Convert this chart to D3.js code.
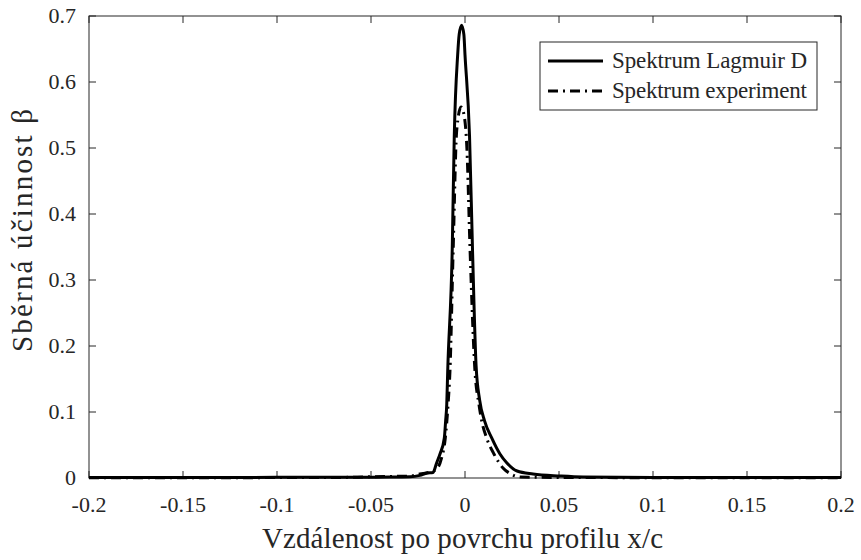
<!DOCTYPE html>
<html>
<head>
<meta charset="utf-8">
<script src="https://cdn.jsdelivr.net/npm/d3@7"></script>
<style>
  html, body { margin: 0; padding: 0; background: #fff; }
  svg { display: block; }
  text { font-family: "Liberation Serif", "DejaVu Serif", serif; fill: #262626; }
</style>
</head>
<body>
<svg id="chart" width="861" height="560"></svg>
<script>
// Collection efficiency along the profile surface
const xTicks = [-0.2, -0.15, -0.1, -0.05, 0, 0.05, 0.1, 0.15, 0.2];
const xTickLabels = ["-0.2", "-0.15", "-0.1", "-0.05", "0", "0.05", "0.1", "0.15", "0.2"];
const yTicks = [0, 0.1, 0.2, 0.3, 0.4, 0.5, 0.6, 0.7];
const yTickLabels = ["0", "0.1", "0.2", "0.3", "0.4", "0.5", "0.6", "0.7"];

const seriesNames = ["Spektrum Lagmuir D", "Spektrum experiment"];

// Spektrum Lagmuir D
const langmuirX = [-0.2, -0.15, -0.1, -0.06, -0.04, -0.0293, -0.024, -0.0202, -0.017, -0.0151, -0.0133, -0.011, -0.0103, -0.0097, -0.0092, -0.0068, -0.0057, -0.0039, -0.0031, -0.0018, -0.0006, 0.0, 0.0024, 0.004, 0.0059, 0.0078, 0.0104, 0.0142, 0.0186, 0.0223, 0.0277, 0.0362, 0.0505, 0.0628, 0.1, 0.15, 0.2];
const langmuirY = [0.0008, 0.0008, 0.001, 0.0012, 0.0014, 0.0018, 0.004, 0.0076, 0.0084, 0.0228, 0.0364, 0.0607, 0.0865, 0.112, 0.162, 0.345, 0.519, 0.641, 0.672, 0.686, 0.672, 0.641, 0.519, 0.345, 0.17, 0.118, 0.0865, 0.0607, 0.0364, 0.0228, 0.0106, 0.006, 0.003, 0.0015, 0.0009, 0.0008, 0.0008];

// Spektrum experiment
const experimentX = [-0.2, -0.15, -0.1, -0.06, -0.049, -0.029, -0.024, -0.0186, -0.0149, -0.0125, -0.0105, -0.009, -0.008, -0.0063, -0.0044, -0.0021, -0.0005, 0.001, 0.0027, 0.0053, 0.0074, 0.0089, 0.0115, 0.0154, 0.0202, 0.024, 0.0293, 0.05, 0.1, 0.15, 0.2];
const experimentY = [0.0005, 0.0005, 0.0006, 0.001, 0.002, 0.003, 0.006, 0.009, 0.014, 0.03, 0.06, 0.112, 0.162, 0.345, 0.527, 0.562, 0.55, 0.5, 0.345, 0.162, 0.112, 0.0865, 0.0607, 0.0364, 0.0152, 0.0068, 0.0015, 0.0008, 0.0005, 0.0005, 0.0005];

const svg = d3.select("#chart");
const margin = { left: 89, right: 20, top: 16, bottom: 82 };
const W = 861, H = 560;
const innerW = W - margin.left - margin.right;
const innerH = H - margin.top - margin.bottom;

const x = d3.scaleLinear().domain([-0.2, 0.2]).range([margin.left, margin.left + innerW]);
const y = d3.scaleLinear().domain([0, 0.7]).range([margin.top + innerH, margin.top]);

const axisColor = "#262626";
const tickLen = 7;

// frame
svg.append("rect")
  .attr("x", x(-0.2)).attr("y", y(0.7))
  .attr("width", x(0.2) - x(-0.2)).attr("height", y(0) - y(0.7))
  .attr("fill", "none").attr("stroke", axisColor).attr("stroke-width", 1);

// inward ticks on all four sides
const gTicks = svg.append("g").attr("stroke", axisColor).attr("stroke-width", 1);
xTicks.forEach(v => {
  gTicks.append("line").attr("x1", x(v)).attr("x2", x(v)).attr("y1", y(0)).attr("y2", y(0) - tickLen);
  gTicks.append("line").attr("x1", x(v)).attr("x2", x(v)).attr("y1", y(0.7)).attr("y2", y(0.7) + tickLen);
});
yTicks.forEach(v => {
  gTicks.append("line").attr("x1", x(-0.2)).attr("x2", x(-0.2) + tickLen).attr("y1", y(v)).attr("y2", y(v));
  gTicks.append("line").attr("x1", x(0.2)).attr("x2", x(0.2) - tickLen).attr("y1", y(v)).attr("y2", y(v));
});

// tick labels
const fs = 22;
svg.append("g").selectAll("text").data(xTicks).join("text")
  .attr("x", d => x(d)).attr("y", y(0) + 34)
  .attr("text-anchor", "middle").attr("font-size", fs)
  .text((d, i) => xTickLabels[i]);
svg.append("g").selectAll("text").data(yTicks).join("text")
  .attr("x", x(-0.2) - 13).attr("y", d => y(d) + 7)
  .attr("text-anchor", "end").attr("font-size", fs)
  .text((d, i) => yTickLabels[i]);

// axis titles
svg.append("text")
  .attr("x", 262).attr("y", 548)
  .attr("font-size", 29)
  .attr("textLength", 401).attr("lengthAdjust", "spacing")
  .text("Vzdálenost po povrchu profilu x/c");
svg.append("text")
  .attr("transform", "translate(32, 352) rotate(-90)")
  .attr("font-size", 29)
  .attr("textLength", 243).attr("lengthAdjust", "spacing")
  .text("Sběrná účinnost β");

// curves
const line = d3.line().x(d => x(d[0])).y(d => y(d[1])).curve(d3.curveMonotoneX);
const langmuir = langmuirX.map((v, i) => [v, langmuirY[i]]);
const experiment = experimentX.map((v, i) => [v, experimentY[i]]);

const plot = svg.append("g");
plot.append("path").datum(langmuir).attr("d", line)
  .attr("fill", "none").attr("stroke", "#000").attr("stroke-width", 3).attr("stroke-linejoin", "round");
plot.append("path").datum(experiment).attr("d", line)
  .attr("fill", "none").attr("stroke", "#000").attr("stroke-width", 3)
  .attr("stroke-dasharray", "10,5,2,5");

// legend
const lg = svg.append("g");
lg.append("rect").attr("x", 540).attr("y", 42).attr("width", 277).attr("height", 68)
  .attr("fill", "#fff").attr("stroke", axisColor).attr("stroke-width", 1);
const rows = [{ y: 61, dash: null }, { y: 91, dash: "10,5,2,5" }];
rows.forEach((r, i) => {
  const l = lg.append("line").attr("x1", 548).attr("x2", 603).attr("y1", r.y).attr("y2", r.y)
    .attr("stroke", "#000").attr("stroke-width", 3);
  if (r.dash) l.attr("stroke-dasharray", r.dash);
  lg.append("text").attr("x", 612).attr("y", r.y + 7).attr("font-size", 23)
    .attr("textLength", 195).attr("lengthAdjust", "spacing")
    .text(seriesNames[i]);
});
</script>
</body>
</html>
